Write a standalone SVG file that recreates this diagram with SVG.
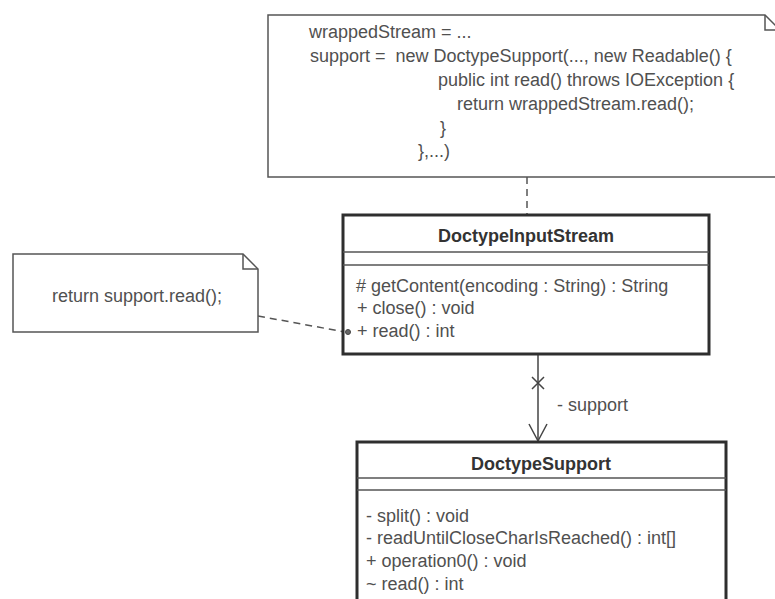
<svg xmlns="http://www.w3.org/2000/svg" width="775" height="599" viewBox="0 0 775 599">
<defs>
<style>
.bg{fill:#ffffff}
.note{fill:#ffffff;stroke:#555555;stroke-width:1.5}
.fold{fill:none;stroke:#555555;stroke-width:1.5}
.cls{fill:#ffffff;stroke:#2e2e2e;stroke-width:3}
.sep{stroke:#555555;stroke-width:1.5}
.t{font-family:"Liberation Sans",Arial,sans-serif;font-size:18px;fill:#505050}
.title{font-family:"Liberation Sans",Arial,sans-serif;font-size:18px;font-weight:bold;fill:#333333;text-anchor:middle}
.dash{fill:none;stroke:#555555;stroke-width:1.5;stroke-dasharray:7 5}
.line{fill:none;stroke:#444444;stroke-width:1.5}
</style>
</defs>
<rect class="bg" x="0" y="0" width="775" height="599"/>

<g id="connectors">
<line class="dash" x1="527" y1="177" x2="527" y2="215"/>
<line class="dash" x1="258" y1="316" x2="345" y2="332"/>
<line class="line" x1="538" y1="355" x2="538" y2="441"/>
<path class="line" d="M532 377 L544 389 M544 377 L532 389"/>
<path class="line" d="M529 424 L538 441 L547 424"/>
<text class="t" x="557" y="411">- support</text>
</g>

<g id="note-top">
<path class="note" d="M268 15 H765 L780 30 V177 H268 Z"/>
<path class="fold" d="M765 15 V30 H780"/>
<text class="t" x="309" y="38">wrappedStream = ...</text>
<text class="t" x="310" y="62" xml:space="preserve">support =  new DoctypeSupport(..., new Readable() {</text>
<text class="t" x="438" y="86">public int read() throws IOException {</text>
<text class="t" x="457" y="110">return wrappedStream.read();</text>
<text class="t" x="440" y="134">}</text>
<text class="t" x="418" y="157">},...)</text>
</g>

<g id="note-left">
<path class="note" d="M13 254 H243 L258 269 V332 H13 Z"/>
<path class="fold" d="M243 254 V269 H258"/>
<text class="t" x="137" y="302" text-anchor="middle">return support.read();</text>
</g>

<g id="DoctypeInputStream">
<rect class="cls" x="343" y="215" width="366" height="139"/>
<line class="sep" x1="343" y1="252" x2="709" y2="252"/>
<line class="sep" x1="343" y1="265" x2="709" y2="265"/>
<text class="title" x="526" y="242">DoctypeInputStream</text>
<text class="t" x="356" y="292"># getContent(encoding : String) : String</text>
<text class="t" x="357" y="314">+ close() : void</text>
<text class="t" x="357" y="337">+ read() : int</text>
<circle cx="348" cy="332" r="2.5" fill="#666666" stroke="#444444" stroke-width="1"/>
</g>

<g id="DoctypeSupport">
<rect class="cls" x="357" y="442" width="369" height="170"/>
<line class="sep" x1="357" y1="478" x2="726" y2="478"/>
<line class="sep" x1="357" y1="490" x2="726" y2="490"/>
<text class="title" x="541" y="470">DoctypeSupport</text>
<text class="t" x="366" y="522">- split() : void</text>
<text class="t" x="366" y="544">- readUntilCloseCharIsReached() : int[]</text>
<text class="t" x="366" y="567">+ operation0() : void</text>
<text class="t" x="366" y="590">~ read() : int</text>
</g>
</svg>
